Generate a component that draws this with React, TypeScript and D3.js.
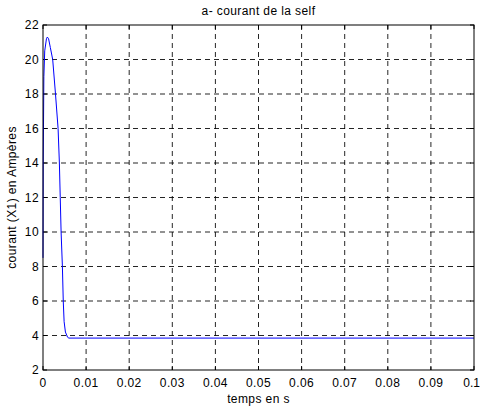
import React from "react";
import * as d3 from "d3";

const timeValues = [0, 0.00005, 0.0002, 0.0004, 0.0008, 0.001, 0.0013, 0.0017, 0.00225, 0.0029, 0.0035, 0.0038, 0.004, 0.0042, 0.0045, 0.0047, 0.0049, 0.0052, 0.0057, 0.006, 0.1];
const currentValues = [8.5, 14, 19, 20.5, 21.2, 21.3, 21.2, 20.7, 20, 18, 16, 14, 12, 10, 8, 6, 4.8, 4.2, 3.9, 3.85, 3.85];
const xTicks = [0, 0.01, 0.02, 0.03, 0.04, 0.05, 0.06, 0.07, 0.08, 0.09, 0.1];
const xTickLabels = ["0", "0.01", "0.02", "0.03", "0.04", "0.05", "0.06", "0.07", "0.08", "0.09", "0.1"];
const yTicks = [2, 4, 6, 8, 10, 12, 14, 16, 18, 20, 22];

const W = 481, H = 413;
const left = 43, right = 474, top = 25, bottom = 370;

export default function App() {
  const x = d3.scaleLinear().domain([0, 0.1]).range([left, right]);
  const y = d3.scaleLinear().domain([2, 22]).range([bottom, top]);
  const line = d3.line<number>().x((_, i) => x(timeValues[i])).y((d) => y(d));
  const font = "'Liberation Sans', Arial, sans-serif";
  const fs = 12;
  const ls = 0.4;
  return (
    <svg width={W} height={H} style={{ position: "absolute", left: 0, top: 0, background: "#fff" }}>
      <rect x={0} y={0} width={W} height={H} fill="#fff" />
      {xTicks.slice(1, -1).map((t) => (
        <line key={"gx" + t} x1={x(t)} x2={x(t)} y1={top} y2={bottom} stroke="#000" strokeWidth={1} strokeDasharray="5,4" opacity={0.85} />
      ))}
      {yTicks.slice(1, -1).map((t) => (
        <line key={"gy" + t} x1={left} x2={right} y1={y(t)} y2={y(t)} stroke="#000" strokeWidth={1} strokeDasharray="5,4" opacity={0.85} />
      ))}
      {xTicks.map((t) => (
        <g key={"tx" + t}>
          <line x1={x(t)} x2={x(t)} y1={bottom} y2={bottom - 4} stroke="#000" />
          <line x1={x(t)} x2={x(t)} y1={top} y2={top + 4} stroke="#000" />
        </g>
      ))}
      {yTicks.map((t) => (
        <g key={"ty" + t}>
          <line x1={left} x2={left + 4} y1={y(t)} y2={y(t)} stroke="#000" />
          <line x1={right} x2={right - 4} y1={y(t)} y2={y(t)} stroke="#000" />
        </g>
      ))}
      <path d={line(currentValues) || ""} fill="none" stroke="#0000ff" strokeWidth={1} />
      <rect x={left} y={top} width={right - left} height={bottom - top} fill="none" stroke="#000" strokeWidth={1} />
      {xTicks.map((t, i) => {
        const last = i === xTicks.length - 1;
        return (
          <text key={"lx" + t} x={last ? W - 1 : x(t)} y={bottom + 17} textAnchor={last ? "end" : "middle"} fontFamily={font} fontSize={fs} letterSpacing={last ? 0 : ls} fill="#000">
            {xTickLabels[i]}
          </text>
        );
      })}
      {yTicks.map((t) => (
        <text key={"ly" + t} x={left - 4} y={y(t) + 4} textAnchor="end" fontFamily={font} fontSize={fs} letterSpacing={ls} fill="#000">
          {t}
        </text>
      ))}
      <text x={(left + right) / 2} y={15} textAnchor="middle" fontFamily={font} fontSize={fs} letterSpacing={ls} fill="#000">
        a- courant de la self
      </text>
      <text x={(left + right) / 2} y={403} textAnchor="middle" fontFamily={font} fontSize={fs} letterSpacing={ls} fill="#000">
        temps en s
      </text>
      <text transform={`translate(16,${(top + bottom) / 2}) rotate(-90)`} textAnchor="middle" fontFamily={font} fontSize={fs} letterSpacing={ls} fill="#000">
        courant (X1) en Ampères
      </text>
    </svg>
  );
}
